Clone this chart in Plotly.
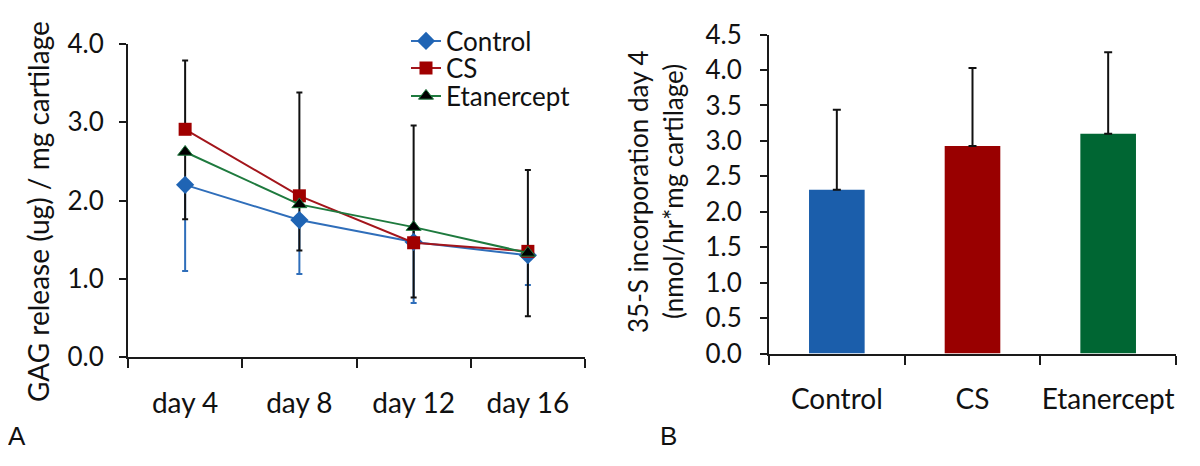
import plotly.graph_objects as go

# panel A: GAG release over time
days = ["day 4", "day 8", "day 12", "day 16"]
control_gag = [2.20, 1.75, 1.47, 1.30]
cs_gag = [2.91, 2.06, 1.46, 1.35]
etan_gag = [2.62, 1.95, 1.66, 1.33]
control_err_minus = [1.10, 0.69, 0.78, 0.38]
cs_err_plus = [0.88, 1.32, 1.50, 1.04]
etan_err_minus = [0.86, 0.59, 0.90, 0.81]

# panel B: 35-S incorporation day 4
groups = ["Control", "CS", "Etanercept"]
incorp = [2.31, 2.93, 3.10]
incorp_err = [1.13, 1.10, 1.15]

# the page body has an 8px margin, so the figure is drawn a bit smaller and offset
OFF = 8
FW, FH = 1200 - 2 * OFF, 466 - 2 * OFF
FONT = "Lato, 'Open Sans', sans-serif"


def px(x):
    return (x - OFF) / FW


def py(y):
    return 1 - (y - OFF) / FH


fig = go.Figure()

# error bars first so markers sit on top
zeros = [0, 0, 0, 0]
fig.add_trace(go.Scatter(x=days, y=control_gag, mode="markers", marker=dict(size=1, opacity=0),
                         error_y=dict(type="data", symmetric=False, array=zeros, arrayminus=control_err_minus,
                                      color="#2f6eba", thickness=2, width=3),
                         showlegend=False, hoverinfo="skip", xaxis="x", yaxis="y"))
fig.add_trace(go.Scatter(x=days, y=etan_gag, mode="markers", marker=dict(size=1, opacity=0),
                         error_y=dict(type="data", symmetric=False, array=zeros, arrayminus=etan_err_minus,
                                      color="#111111", thickness=2, width=3),
                         showlegend=False, hoverinfo="skip", xaxis="x", yaxis="y"))
fig.add_trace(go.Scatter(x=days, y=cs_gag, mode="markers", marker=dict(size=1, opacity=0),
                         error_y=dict(type="data", symmetric=False, array=cs_err_plus, arrayminus=zeros,
                                      color="#111111", thickness=2, width=3),
                         showlegend=False, hoverinfo="skip", xaxis="x", yaxis="y"))

fig.add_trace(go.Scatter(x=days, y=control_gag, name="Control", mode="lines+markers",
                         line=dict(color="#2f6eba", width=2),
                         marker=dict(symbol="diamond", size=14, color="#1f64b4"),
                         legend="legend", xaxis="x", yaxis="y"))
fig.add_trace(go.Scatter(x=days, y=cs_gag, name="CS", mode="lines+markers",
                         line=dict(color="#a3151b", width=2),
                         marker=dict(symbol="square", size=13, color="#a00000"),
                         legend="legend2", xaxis="x", yaxis="y"))
fig.add_trace(go.Scatter(x=days, y=etan_gag, name="Etanercept", mode="lines+markers",
                         line=dict(color="#1e7a3e", width=2),
                         marker=dict(symbol="triangle-up", size=13, color="#000000",
                                     line=dict(color="#1e7a3e", width=1)),
                         legend="legend3", xaxis="x", yaxis="y"))

fig.add_trace(go.Bar(x=groups, y=incorp, marker=dict(color=["#1b5eab", "#990000", "#006633"], line_width=0),
                     error_y=dict(type="data", symmetric=False, array=incorp_err, arrayminus=[0, 0, 0],
                                  color="#111111", thickness=2, width=4),
                     showlegend=False, xaxis="x2", yaxis="y2"))

axis_common = dict(showline=True, linecolor="#1a1a1a", linewidth=2, showgrid=False, zeroline=False,
                   ticks="outside", tickcolor="#1a1a1a", tickwidth=2, automargin=False)
xfont = dict(size=28)
yfont = dict(size=26)

leg_common = dict(xanchor="left", yanchor="middle", bgcolor="rgba(0,0,0,0)",
                  font=dict(size=26), itemwidth=30)

ann_common = dict(xref="paper", yref="paper", xanchor="center", yanchor="middle", showarrow=False)

fig.update_layout(
    width=FW, height=FH,
    margin=dict(l=0, r=0, t=0, b=0),
    paper_bgcolor="white", plot_bgcolor="white",
    font=dict(family=FONT, size=24, color="#111111"),
    bargap=0.59,
    xaxis=dict(domain=[px(128), px(585)], range=[-0.5, 3.5], type="category", tickfont=xfont,
               tickangle=0, tickson="boundaries", ticklen=9, ticklabelstandoff=20, anchor="y",
               **axis_common),
    yaxis=dict(domain=[py(357), py(44)], range=[0, 4], tickvals=[0, 1, 2, 3, 4], tickfont=yfont,
               tickformat=".1f", ticklen=7, ticklabelstandoff=10, anchor="x", **axis_common),
    xaxis2=dict(domain=[px(769), px(1176)], range=[-0.5, 2.5], type="category", tickfont=xfont,
                tickangle=0, tickson="boundaries", ticklen=9, ticklabelstandoff=20, anchor="y2",
                **axis_common),
    yaxis2=dict(domain=[py(353.6), py(34.6)], range=[0, 4.5], dtick=0.5, tickfont=yfont,
                tickformat=".1f", ticklen=7, ticklabelstandoff=13, anchor="x2", **axis_common),
    legend=dict(x=px(406), y=py(41), **leg_common),
    legend2=dict(x=px(406), y=py(68), **leg_common),
    legend3=dict(x=px(406), y=py(96), **leg_common),
    annotations=[
        dict(text="GAG release (ug) / mg cartilage", x=px(38), y=py(212), textangle=-90,
             font=dict(size=28), **ann_common),
        dict(text="35-S incorporation day 4", x=px(638), y=py(192), textangle=-90,
             font=dict(size=26), **ann_common),
        dict(text="(nmol/hr*mg cartilage)", x=px(673), y=py(192), textangle=-90,
             font=dict(size=26), **ann_common),
        dict(text="A", x=px(17), y=py(436), font=dict(size=26, family="Liberation Sans, Arial, sans-serif"),
             **ann_common),
        dict(text="B", x=px(668), y=py(436), font=dict(size=26, family="Liberation Sans, Arial, sans-serif"),
             **ann_common),
    ],
)

fig.write_html("out.html")
